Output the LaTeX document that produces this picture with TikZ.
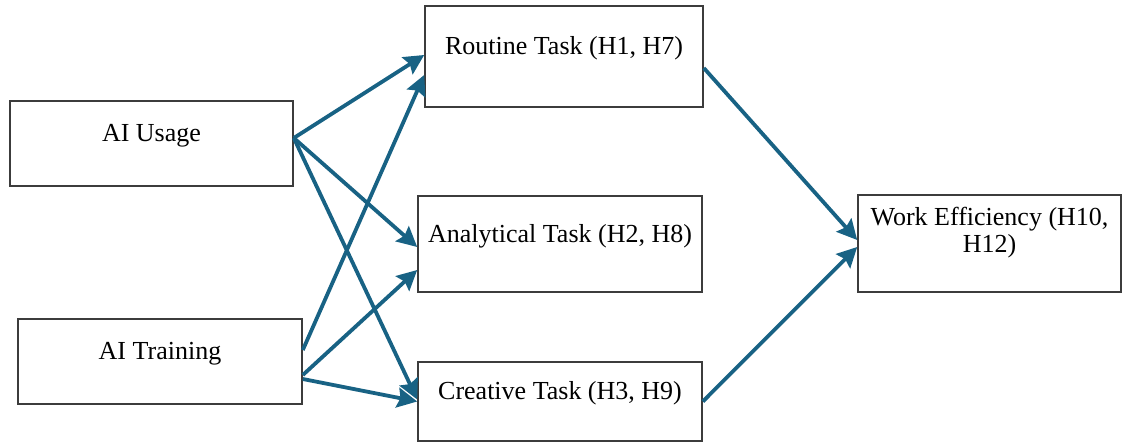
\documentclass[tikz,border=0pt]{standalone}
\usepackage{fontspec}
\setmainfont{Liberation Serif}
\usetikzlibrary{arrows.meta}
\definecolor{pathblue}{RGB}{24,98,132}
\definecolor{boxgray}{RGB}{60,60,60}

\begin{document}
\begin{tikzpicture}[x=.5pt,y=-.5pt,>={Stealth[length=10pt,width=10pt,inset=1.5pt]},
  box/.style={draw=boxgray,line width=.8pt,inner sep=0pt,font=\fontsize{13}{13.5}\selectfont,text height=9pt,text depth=11pt},
  link/.style={->,line width=1.9pt,pathblue}]
\useasboundingbox(0,0)rectangle(1123,444);
% predictors
\node[box,minimum width=141.5pt,minimum height=42.5pt](usage)at(151.5,143.5){AI Usage};
\node[box,minimum width=142pt,minimum height=42.5pt](training)at(160,361.5){AI Training};
% task types
\node[box,minimum width=139pt,minimum height=50.5pt](routine)at(564,56.5){Routine Task (H1, H7)};
\node[box,minimum width=142pt,minimum height=48pt](analytical)at(560,244){Analytical Task (H2, H8)};
\node[box,minimum width=142pt,minimum height=39.5pt](creative)at(560,401.5){Creative Task (H3, H9)};
% outcome
\node[box,text height=22.5pt,text depth=14pt,align=center,minimum width=131.5pt,minimum height=48.5pt](work)at(989.5,243.5){Work Efficiency (H10,\\H12)};
% paths
\draw[link]([yshift=2.75pt]usage.east)--([yshift=.75pt]routine.west);
\draw[link]([yshift=2.75pt]usage.east)--([yshift=-1.5pt]analytical.west);
\draw[link]([yshift=2.75pt]usage.east)--([yshift=1pt]creative.west);
\draw[link]([yshift=5.75pt]training.east)--([yshift=-9.25pt]routine.west);
\draw[link]([yshift=-6.75pt]training.east)--([yshift=-13pt]analytical.west);
\draw[link]([yshift=-8.75pt]training.east)--(creative.west);
\draw[link]([yshift=-5.75pt]routine.east)--([yshift=1.75pt]work.west);
\draw[link](creative.east)--([yshift=-1.75pt]work.west);
\end{tikzpicture}
\end{document}
